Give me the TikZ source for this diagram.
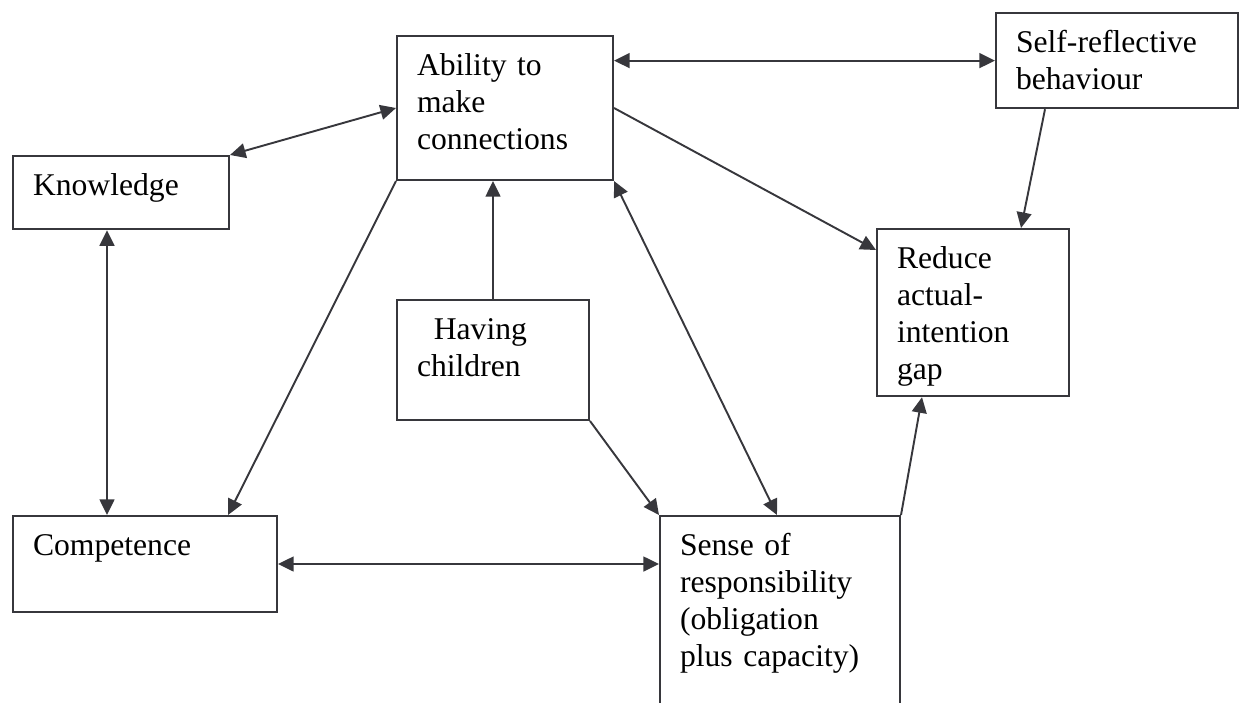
\documentclass[tikz,border=0pt]{standalone}
\usepackage{fontspec}
\setmainfont{Liberation Serif}
\usetikzlibrary{arrows.meta}
\definecolor{linegrey}{RGB}{55,55,60}
\tikzset{
  box/.style={draw=linegrey, line width=0.5mm, rectangle, anchor=north west, align=left,
    inner xsep=5mm, inner ysep=2.5mm, text height=7.4mm,
    font=\fontsize{22.5}{26.3}\selectfont},
  tip/.tip={Triangle[length=3.9mm, width=3.7mm]},
  link/.style={draw=linegrey, line width=0.48mm, -tip},
  twoway/.style={link, tip-tip},
}
\begin{document}
\begin{tikzpicture}[x=0.25mm, y=-0.25mm]
    \useasboundingbox (0, 0) rectangle (1239, 702);
    \node[box, text width=44mm, text depth=23.6mm] (abil) at (396, 35) {Ability to\\make\\connections};
    \node[box, text width=50.5mm, text depth=11.4mm] (self) at (995, 12) {Self-reflective\\behaviour};
    \node[box, text width=44mm, text depth=5.9mm] (know) at (12, 155) {Knowledge};
    \node[box, text width=38mm, text depth=29.4mm] (gap) at (876, 228) {Reduce\\actual-\\intention\\gap};
    \node[box, text width=38mm, text depth=17.6mm] (kids) at (396, 299) {\hspace*{4.2mm}Having\\children};
    \node[box, text width=56mm, text depth=11.6mm] (comp) at (12, 515) {Competence};
    \node[box, text width=50mm, text depth=37.6mm] (resp) at (659, 515) {Sense of\\responsibility\\(obligation\\plus capacity)};
    \draw[twoway] (know.north east) -- (abil.west);
    \draw[twoway] (abil.east |- self.west) -- (self.west);
    \draw[link] (abil.east) -- ([yshift=-5.5mm]gap.north west);
    \draw[link] ([xshift=12.5mm]self.south west) -- ([xshift=36.25mm]gap.north west);
    \draw[link] (kids.north) -- (kids.north |- abil.south);
    \draw[twoway] (abil.south east) -- ([xshift=29.5mm]resp.north west);
    \draw[link] (abil.south west) -- ([xshift=54mm]comp.north west);
    \draw[twoway] ([xshift=23.75mm]know.south west) -- ([xshift=23.75mm]comp.north west);
    \draw[twoway] (comp.east) -- (comp.east -| resp.west);
    \draw[link] (kids.south east) -- (resp.north west);
    \draw[link] (resp.north east) -- ([xshift=11.5mm]gap.south west);
\end{tikzpicture}
\end{document}
